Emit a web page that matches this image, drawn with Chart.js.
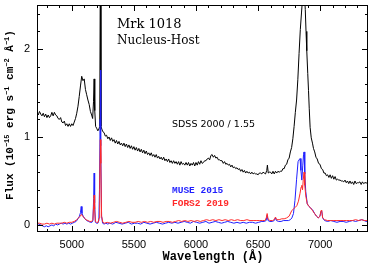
<!DOCTYPE html>
<html><head><meta charset="utf-8">
<script src="https://cdn.jsdelivr.net/npm/chart.js@4.4.0/dist/chart.umd.min.js"></script>
<style>html,body{margin:0;padding:0;background:#fff;}#wrap{width:372px;height:265px;}</style>
</head><body><div id="wrap"><canvas id="c" width="372" height="265"></canvas></div>
<script>
const xTickLabels=[5000,5500,6000,6500,7000];
const yTickLabels=[0,1,2];

const sdssWave=[
4720,4730,4740,4750,4760,4770,4780,4790,4800,4810,
4820,4830,4840,4850,4860,4870,4880,4890,4900,4910,
4920,4930,4940,4950,4960,4970,4980,4990,5000,5010,
5020,5030,5040,5050,5060,5070,5080,5090,5100,5110,
5120,5130,5140,5150,5160,5168,5175,5180,5185,5192,
5200,5210,5218,5225,5230,5235,5242,5250,5260,5270,
5280,5290,5300,5310,5320,5330,5340,5350,5360,5370,
5380,5390,5400,5410,5420,5430,5440,5450,5460,5470,
5480,5490,5500,5510,5520,5530,5540,5550,5560,5570,
5580,5590,5600,5610,5620,5630,5640,5650,5660,5670,
5680,5690,5700,5710,5720,5730,5740,5750,5760,5770,
5780,5790,5800,5810,5820,5830,5840,5850,5860,5870,
5880,5890,5900,5910,5920,5930,5940,5950,5960,5970,
5980,5990,6000,6010,6020,6030,6040,6050,6060,6070,
6080,6090,6100,6110,6120,6130,6140,6150,6160,6170,
6180,6190,6200,6210,6220,6230,6240,6250,6260,6270,
6280,6290,6300,6310,6320,6330,6340,6350,6360,6370,
6380,6390,6400,6410,6420,6430,6440,6450,6460,6470,
6480,6490,6500,6510,6520,6530,6540,6550,6560,6570,
6575,6582,6590,6600,6610,6620,6630,6640,6650,6660,
6670,6680,6690,6700,6710,6720,6730,6740,6750,6760,
6770,6780,6790,6800,6810,6820,6830,6840,6850,6860,
6866,6872,6880,6886,6892,6900,6906,6912,6919,6928,
6938,6946,6956,6966,6976,6987,6998,7010,7020,7030,
7040,7050,7060,7070,7080,7090,7100,7110,7120,7130,
7140,7150,7160,7170,7180,7190,7200,7210,7220,7230,
7240,7250,7260,7270,7280,7290,7300,7310,7320,7330,
7340,7350,7360,7370,7380,7385];
const sdssFlux=[
1.28,1.25,1.29,1.26,1.24,1.27,1.23,1.26,1.22,1.25,
1.22,1.24,1.28,1.24,1.28,1.25,1.24,1.21,1.20,1.22,
1.17,1.16,1.18,1.13,1.15,1.12,1.15,1.12,1.15,1.13,
1.17,1.21,1.27,1.35,1.46,1.58,1.69,1.64,1.66,1.54,
1.48,1.42,1.37,1.29,1.25,1.21,1.40,1.66,1.30,1.12,
1.10,1.07,1.09,1.12,3.00,1.12,1.09,1.06,1.05,1.01,
1.02,0.98,1.00,0.96,0.99,0.95,0.97,0.93,0.96,0.92,
0.95,0.91,0.93,0.90,0.93,0.89,0.92,0.88,0.91,0.87,
0.90,0.86,0.89,0.85,0.88,0.84,0.87,0.83,0.86,0.82,
0.85,0.81,0.84,0.80,0.82,0.79,0.82,0.78,0.80,0.77,
0.80,0.76,0.78,0.75,0.77,0.74,0.77,0.73,0.75,0.72,
0.75,0.71,0.73,0.70,0.73,0.70,0.72,0.69,0.72,0.68,
0.72,0.69,0.70,0.68,0.71,0.68,0.71,0.67,0.70,0.68,
0.71,0.67,0.71,0.68,0.72,0.69,0.73,0.70,0.71,0.73,
0.73,0.75,0.76,0.74,0.79,0.80,0.77,0.79,0.76,0.77,
0.74,0.74,0.73,0.73,0.70,0.72,0.69,0.70,0.68,0.69,
0.66,0.68,0.65,0.66,0.64,0.65,0.63,0.64,0.61,0.63,
0.60,0.62,0.59,0.61,0.59,0.60,0.58,0.60,0.58,0.59,
0.58,0.58,0.57,0.59,0.59,0.58,0.60,0.59,0.58,0.62,
0.68,0.59,0.60,0.60,0.58,0.61,0.58,0.61,0.59,0.61,
0.60,0.61,0.61,0.64,0.64,0.68,0.69,0.74,0.76,0.83,
0.88,0.98,1.12,1.28,1.42,1.65,1.95,2.22,2.42,2.62,
2.70,2.65,2.45,2.20,1.98,1.72,1.53,1.32,1.11,0.99,
0.93,0.87,0.83,0.77,0.75,0.70,0.69,0.64,0.63,0.59,
0.59,0.56,0.57,0.54,0.57,0.53,0.56,0.52,0.55,0.51,
0.52,0.51,0.51,0.50,0.50,0.49,0.51,0.48,0.50,0.47,
0.50,0.47,0.49,0.46,0.50,0.47,0.48,0.48,0.49,0.46,
0.49,0.47,0.48,0.48,0.47,0.48];

const museWave=[
4720,4735,4750,4765,4780,4795,4810,4825,4840,4855,
4870,4885,4900,4915,4930,4945,4960,4975,4990,5005,
5020,5035,5050,5062,5070,5076,5082,5092,5105,5120,
5135,5150,5162,5170,5176,5180,5184,5190,5200,5210,
5218,5223,5228,5231,5235,5240,5248,5260,5275,5290,
5305,5330,5355,5380,5405,5430,5455,5480,5505,5530,
5555,5580,5605,5630,5655,5680,5705,5730,5755,5780,
5805,5830,5855,5880,5905,5930,5955,5980,6005,6030,
6055,6080,6105,6130,6155,6180,6205,6230,6255,6280,
6305,6330,6355,6380,6405,6430,6455,6480,6505,6530,
6550,6565,6573,6580,6595,6615,6630,6640,6648,6665,
6685,6705,6725,6745,6760,6772,6785,6797,6810,6822,
6830,6838,6845,6852,6860,6866,6870,6876,6884,6896,
6910,6925,6940,6955,6970,6985,6998,7006,7012,7020,
7035,7060,7085,7110,7135,7160,7185,7210,7235,7260,
7285,7310,7335,7355,7370,7385];
const museFlux=[
0.02,0.01,0.00,-0.01,-0.02,-0.01,-0.02,-0.01,0.00,-0.01,
0.01,0.00,0.01,0.02,0.01,0.02,0.01,0.02,0.01,0.02,
0.03,0.04,0.07,0.10,0.14,0.21,0.13,0.10,0.07,0.05,
0.04,0.03,0.03,0.05,0.30,0.59,0.25,0.03,0.02,0.02,
0.05,0.40,1.20,1.76,0.90,0.10,0.02,0.01,0.02,0.01,
0.02,0.01,0.03,0.02,0.01,0.02,0.03,0.01,0.02,0.02,
0.01,0.03,0.02,0.01,0.02,0.03,0.02,0.01,0.02,0.03,
0.02,0.03,0.02,0.03,0.04,0.03,0.02,0.04,0.03,0.02,
0.03,0.04,0.02,0.03,0.04,0.03,0.02,0.03,0.04,0.03,
0.02,0.03,0.02,0.03,0.02,0.03,0.03,0.02,0.03,0.04,
0.04,0.05,0.11,0.05,0.04,0.04,0.05,0.08,0.05,0.04,
0.04,0.05,0.05,0.05,0.06,0.08,0.13,0.28,0.52,0.72,
0.74,0.755,0.62,0.51,0.68,0.80,0.83,0.58,0.38,0.24,
0.21,0.19,0.17,0.13,0.10,0.08,0.10,0.15,0.16,0.08,
0.05,0.04,0.05,0.04,0.03,0.04,0.04,0.03,0.04,0.05,
0.04,0.05,0.06,0.05,0.04,0.04];

const forsWave=[
4720,4740,4760,4780,4800,4820,4840,4860,4880,4900,
4920,4940,4960,4980,5000,5020,5040,5055,5068,5078,
5088,5100,5115,5130,5145,5160,5170,5176,5180,5184,
5190,5200,5212,5220,5225,5230,5234,5240,5250,5265,
5285,5310,5335,5360,5385,5410,5435,5460,5485,5510,
5535,5560,5585,5610,5635,5660,5685,5710,5735,5760,
5785,5810,5835,5860,5885,5910,5935,5960,5985,6010,
6035,6060,6085,6110,6135,6160,6185,6210,6235,6260,
6285,6310,6335,6360,6385,6410,6435,6460,6485,6510,
6535,6555,6566,6573,6580,6595,6615,6630,6640,6650,
6670,6690,6710,6730,6750,6770,6790,6800,6812,6825,
6838,6846,6852,6858,6864,6870,6876,6884,6896,6910,
6925,6940,6955,6970,6985,6998,7006,7012,7020,7035,
7060,7085,7110,7135,7160,7185,7210,7235,7260,7285,
7310,7335,7355,7370,7385];
const forsFlux=[
0.02,0.02,0.01,0.01,0.02,0.01,0.02,0.01,0.02,0.02,
0.02,0.03,0.02,0.03,0.03,0.04,0.06,0.08,0.10,0.12,
0.10,0.08,0.06,0.05,0.04,0.04,0.06,0.22,0.34,0.18,
0.04,0.03,0.03,0.08,0.50,0.97,0.70,0.10,0.03,0.02,
0.03,0.02,0.03,0.04,0.03,0.02,0.03,0.04,0.03,0.03,
0.04,0.03,0.04,0.03,0.04,0.03,0.04,0.04,0.03,0.04,
0.04,0.03,0.04,0.05,0.04,0.05,0.04,0.05,0.04,0.05,
0.04,0.05,0.06,0.05,0.06,0.05,0.06,0.05,0.06,0.05,
0.06,0.05,0.06,0.05,0.05,0.06,0.05,0.05,0.05,0.05,
0.05,0.05,0.08,0.13,0.07,0.05,0.05,0.06,0.09,0.06,
0.06,0.07,0.07,0.08,0.10,0.16,0.19,0.20,0.22,0.27,
0.36,0.43,0.45,0.40,0.52,0.60,0.45,0.33,0.24,0.21,
0.19,0.16,0.13,0.10,0.08,0.10,0.16,0.17,0.08,0.06,
0.05,0.05,0.05,0.05,0.05,0.05,0.05,0.05,0.05,0.06,
0.05,0.06,0.05,0.05,0.05];

function pts(w,f){return w.map((x,i)=>({x:x,y:f[i]}));}

const decor={id:'decor',afterDraw(chart){
  const ctx=chart.ctx,a=chart.chartArea,x=chart.scales.x,y=chart.scales.y;
  ctx.save();
  ctx.strokeStyle='#000';ctx.lineWidth=1;
  ctx.strokeRect(a.left+0.5,a.top+0.5,a.right-a.left-1,a.bottom-a.top-1);
  ctx.beginPath();
  for(let v=4800;v<=7300;v+=100){
    const px=Math.round(x.getPixelForValue(v))+0.5;const L=(v%500===0)?6:3;
    ctx.moveTo(px,a.bottom);ctx.lineTo(px,a.bottom-L);
    ctx.moveTo(px,a.top);ctx.lineTo(px,a.top+L);
  }
  for(let k=0;k<=12;k++){
    const py=Math.round(y.getPixelForValue(k*0.2))+0.5;const L=(k%5===0)?6:3;
    ctx.moveTo(a.left,py);ctx.lineTo(a.left+L,py);
    ctx.moveTo(a.right,py);ctx.lineTo(a.right-L,py);
  }
  ctx.stroke();
  ctx.fillStyle='#000';ctx.textBaseline='alphabetic';ctx.textAlign='left';
  ctx.font='13px "DejaVu Serif"';ctx.fillText('Mrk 1018',117,28);
  ctx.font='12px "DejaVu Serif"';ctx.fillText('Nucleus-Host',117,44);
  ctx.font='9.5px "DejaVu Sans"';ctx.fillText('SDSS 2000 / 1.55',172,127);
  ctx.font='bold 9.5px "Liberation Mono"';
  ctx.fillStyle='#1f1fff';ctx.fillText('MUSE 2015',172,193);
  ctx.fillStyle='#ff2a2a';ctx.fillText('FORS2 2019',172,206);
  ctx.fillStyle='#000';
  ctx.font='bold 12px "Liberation Mono"';ctx.textAlign='center';
  ctx.fillText('Wavelength (\u00C5)',213,260);
  ctx.translate(13,115);ctx.rotate(-Math.PI/2);
  const segs=[['Flux (10',0],['\u221215',1],[' erg s',0],['\u22121',1],[' cm',0],['\u22122',1],[' \u00C5',0],['\u22121',1],[')',0]];
  const fN='bold 11px "Liberation Mono"',fS='bold 7px "Liberation Mono"';
  let tot=0;segs.forEach(s=>{ctx.font=s[1]?fS:fN;tot+=ctx.measureText(s[0]).width;});
  let cx=-tot/2;ctx.textAlign='left';
  segs.forEach(s=>{ctx.font=s[1]?fS:fN;ctx.fillText(s[0],cx,s[1]?-4:0);cx+=ctx.measureText(s[0]).width;});
  ctx.restore();
}};

new Chart(document.getElementById('c'),{
  type:'line',
  data:{datasets:[
    {label:'SDSS 2000 / 1.55',data:pts(sdssWave,sdssFlux),borderColor:'#000',borderWidth:1,pointRadius:0,tension:0,order:2},
    {label:'MUSE 2015',data:pts(museWave,museFlux),borderColor:'#1f1fff',borderWidth:1,pointRadius:0,tension:0,order:1},
    {label:'FORS2 2019',data:pts(forsWave,forsFlux),borderColor:'#ff2a2a',borderWidth:1,pointRadius:0,tension:0,order:0}
  ]},
  options:{
    responsive:false,animation:false,devicePixelRatio:1,
    layout:{padding:{top:5,right:4,left:0,bottom:0}},
    plugins:{legend:{display:false},tooltip:{enabled:false}},
    scales:{
      x:{type:'linear',min:4720,max:7385,
        afterBuildTicks:s=>{s.ticks=xTickLabels.map(v=>({value:v}));},
        afterFit:s=>{s.height=33;s.paddingLeft=0;s.paddingRight=0;},
        grid:{display:false,drawTicks:false},border:{display:false},
        ticks:{color:'#000',font:{family:'"Liberation Sans"',size:11},padding:6,maxRotation:0,autoSkip:false,callback:v=>String(v)}},
      y:{type:'linear',min:-0.08,max:2.5,
        afterBuildTicks:s=>{s.ticks=yTickLabels.map(v=>({value:v}));},
        afterFit:s=>{s.width=37;s.paddingTop=0;s.paddingBottom=0;},
        grid:{display:false,drawTicks:false},border:{display:false},
        ticks:{color:'#000',font:{family:'"Liberation Sans"',size:11},padding:7,callback:v=>String(v)}}
    }
  },
  plugins:[decor]
});
</script></body></html>
